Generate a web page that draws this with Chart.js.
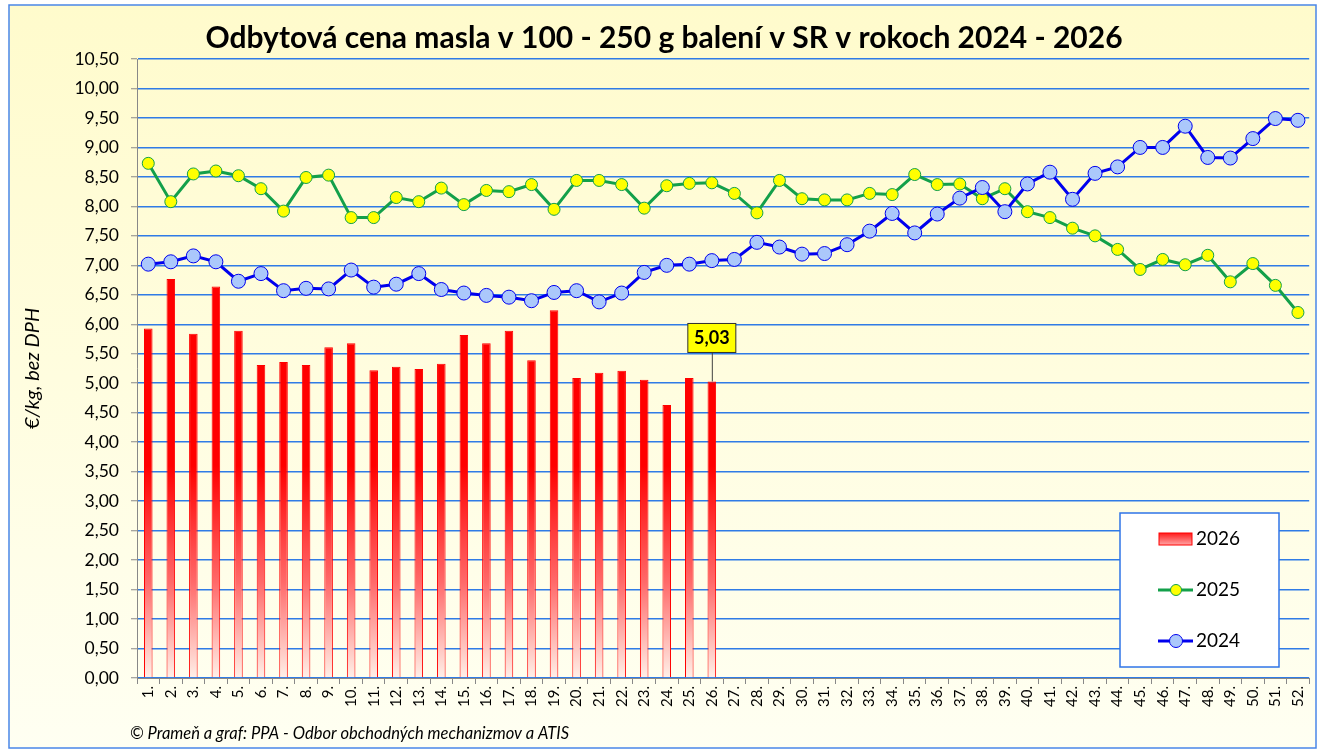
<!DOCTYPE html>
<html>
<head>
<meta charset="utf-8">
<script src="https://cdn.jsdelivr.net/npm/chart.js@4.4.1/dist/chart.umd.min.js"></script>
<style>
  html, body { margin: 0; padding: 0; background: #ffffff; }
  #wrap { width: 1318px; height: 751px; position: relative; }
</style>
</head>
<body>
<div id="wrap"><canvas id="chart" width="1318" height="751"></canvas></div>
<script>
// týždne 1. - 52.
const weeks = [];
for (let i = 1; i <= 52; i++) weeks.push(i + '.');

const prices2026 = [5.93, 6.77, 5.84, 6.64, 5.89, 5.31, 5.36, 5.31, 5.61, 5.68,
  5.22, 5.28, 5.24, 5.33, 5.82, 5.68, 5.89, 5.39, 6.24, 5.09,
  5.18, 5.21, 5.06, 4.63, 5.09, 5.03];

const prices2025 = [8.73, 8.08, 8.55, 8.60, 8.52, 8.30, 7.92, 8.49, 8.53, 7.81,
  7.81, 8.15, 8.08, 8.31, 8.03, 8.27, 8.25, 8.37, 7.95, 8.44,
  8.44, 8.37, 7.97, 8.35, 8.39, 8.40, 8.22, 7.89, 8.44, 8.13,
  8.11, 8.11, 8.22, 8.20, 8.54, 8.37, 8.38, 8.13, 8.30, 7.91,
  7.81, 7.63, 7.50, 7.27, 6.93, 7.10, 7.01, 7.17, 6.72, 7.03,
  6.66, 6.20];

const prices2024 = [7.02, 7.06, 7.16, 7.06, 6.73, 6.86, 6.57, 6.61, 6.60, 6.92,
  6.63, 6.68, 6.86, 6.59, 6.53, 6.49, 6.46, 6.40, 6.54, 6.57,
  6.38, 6.53, 6.88, 7.00, 7.02, 7.08, 7.10, 7.39, 7.31, 7.19,
  7.20, 7.35, 7.58, 7.88, 7.55, 7.87, 8.14, 8.32, 7.91, 8.38,
  8.58, 8.12, 8.56, 8.67, 9.00, 9.00, 9.36, 8.83, 8.82, 9.15,
  9.49, 9.46];

const seriesNames = ['2026', '2025', '2024'];
const lastLabelIndex = 25;

const FONT = 'Lato, "Open Sans", sans-serif';

function fmt(v) {
  return v.toFixed(2).replace('.', ',');
}

function barGradient(chart) {
  const area = chart.chartArea;
  const y = chart.scales.y;
  if (!area || !y) return '#ff0000';
  const g = chart.ctx.createLinearGradient(0, y.getPixelForValue(3.6), 0, y.getPixelForValue(0));
  g.addColorStop(0, '#ff0000');
  g.addColorStop(0.55, '#ff6a6a');
  g.addColorStop(1, '#fff0e8');
  return g;
}

const backdrop = {
  id: 'backdrop',
  beforeDraw(chart) {
    const ctx = chart.ctx;
    ctx.save();
    const g = ctx.createLinearGradient(0, 5, 0, 748);
    g.addColorStop(0, '#fffbcc');
    g.addColorStop(1, '#fffff2');
    ctx.fillStyle = g;
    ctx.fillRect(9, 5, 1307, 743);
    ctx.strokeStyle = '#4a86e8';
    ctx.lineWidth = 1.5;
    ctx.strokeRect(9, 5, 1307, 743);
    ctx.restore();
  }
};

const extras = {
  id: 'extras',
  afterDraw(chart) {
    const ctx = chart.ctx;
    const x = chart.scales.x;
    const y = chart.scales.y;
    ctx.save();

    // popis poslednej hodnoty
    const v = prices2026[lastLabelIndex];
    const px = x.getPixelForValue(lastLabelIndex);
    const py = y.getPixelForValue(v);
    ctx.strokeStyle = '#404040';
    ctx.lineWidth = 1;
    ctx.beginPath();
    ctx.moveTo(px + 0.5, py);
    ctx.lineTo(px + 0.5, py - 29);
    ctx.stroke();
    ctx.fillStyle = '#ffff00';
    ctx.fillRect(px - 24, py - 58, 48, 29);
    ctx.strokeStyle = '#303030';
    ctx.strokeRect(px - 24, py - 58, 48, 29);
    ctx.fillStyle = '#000000';
    ctx.font = 'bold 18px ' + FONT;
    ctx.textAlign = 'center';
    ctx.textBaseline = 'middle';
    ctx.fillText(fmt(v), px, py - 43);

    // legenda
    ctx.fillStyle = '#ffffff';
    ctx.fillRect(1120, 513, 159, 154);
    ctx.strokeStyle = '#2f74e8';
    ctx.lineWidth = 1.5;
    ctx.strokeRect(1120, 513, 159, 154);

    const lg = ctx.createLinearGradient(0, 532, 0, 546);
    lg.addColorStop(0, '#ff1010');
    lg.addColorStop(1, '#ffb0b0');
    ctx.fillStyle = lg;
    ctx.fillRect(1159, 533, 33, 12);
    ctx.strokeStyle = '#ff0000';
    ctx.lineWidth = 1;
    ctx.strokeRect(1159, 533, 33, 12);

    ctx.lineWidth = 3;
    ctx.strokeStyle = '#13a04a';
    ctx.beginPath(); ctx.moveTo(1158, 590); ctx.lineTo(1193, 590); ctx.stroke();
    ctx.beginPath(); ctx.arc(1176, 590, 5.5, 0, Math.PI * 2);
    ctx.fillStyle = '#ffff00'; ctx.fill();
    ctx.lineWidth = 1; ctx.stroke();

    ctx.lineWidth = 3;
    ctx.strokeStyle = '#0000ee';
    ctx.beginPath(); ctx.moveTo(1158, 641); ctx.lineTo(1193, 641); ctx.stroke();
    ctx.beginPath(); ctx.arc(1176, 641, 6.5, 0, Math.PI * 2);
    ctx.fillStyle = '#abc8fb'; ctx.fill();
    ctx.lineWidth = 1; ctx.stroke();

    ctx.fillStyle = '#000000';
    ctx.font = '19px ' + FONT;
    ctx.textAlign = 'left';
    ctx.textBaseline = 'middle';
    ctx.fillText(seriesNames[0], 1196, 539);
    ctx.fillText(seriesNames[1], 1196, 590);
    ctx.fillText(seriesNames[2], 1196, 641);

    // zdroj
    ctx.font = 'italic 16.5px ' + FONT;
    ctx.fillText('© Prameň a graf: PPA - Odbor obchodných mechanizmov a ATIS', 130, 734);
    ctx.restore();
  }
};

new Chart(document.getElementById('chart'), {
  type: 'bar',
  data: {
    labels: weeks,
    datasets: [
      {
        label: seriesNames[0],
        data: prices2026,
        backgroundColor: (c) => barGradient(c.chart),
        borderColor: '#ff0000',
        borderWidth: 1,
        categoryPercentage: 1,
        barPercentage: 0.38,
        order: 3
      },
      {
        type: 'line',
        label: seriesNames[1],
        data: prices2025,
        borderColor: '#13a04a',
        borderWidth: 3,
        pointBackgroundColor: '#ffff00',
        pointBorderColor: '#13a04a',
        pointBorderWidth: 1,
        pointRadius: 6,
        tension: 0,
        order: 2
      },
      {
        type: 'line',
        label: seriesNames[2],
        data: prices2024,
        borderColor: '#0000ee',
        borderWidth: 3,
        pointBackgroundColor: '#abc8fb',
        pointBorderColor: '#0000ee',
        pointBorderWidth: 1,
        pointRadius: 7,
        tension: 0,
        order: 1
      }
    ]
  },
  options: {
    responsive: false,
    animation: false,
    layout: { padding: { left: 18, right: 8, top: 0, bottom: 0 } },
    plugins: {
      legend: { display: false },
      tooltip: { enabled: false },
      title: {
        display: true,
        text: 'Odbytová cena masla v 100 - 250 g balení v SR v rokoch 2024 - 2026',
        color: '#000000',
        font: { family: FONT, size: 30, weight: 'bold' },
        padding: { top: 20, bottom: 3 }
      }
    },
    scales: {
      y: {
        min: 0,
        max: 10.5,
        afterFit(s) { s.width = 119; },
        ticks: {
          stepSize: 0.5,
          color: '#000000',
          font: { family: FONT, size: 17.5 },
          padding: 12,
          callback: (v) => fmt(v)
        },
        grid: {
          color: '#2f7be6',
          lineWidth: 1.5,
          tickColor: '#888888',
          tickLength: 6,
          tickWidth: 1
        },
        border: { display: true, color: '#888888', width: 1 },
        title: {
          display: true,
          text: '€/kg, bez DPH',
          color: '#000000',
          font: { family: FONT, size: 20, style: 'italic' },
          padding: { top: 3, bottom: 0 }
        }
      },
      x: {
        afterFit(s) { s.height = 73; },
        ticks: {
          color: '#000000',
          font: { family: FONT, size: 15 },
          minRotation: 90,
          maxRotation: 90,
          autoSkip: false,
          padding: 2
        },
        grid: {
          offset: true,
          drawOnChartArea: false,
          color: '#888888',
          tickLength: 6
        },
        border: { display: true, color: '#888888', width: 1 }
      }
    }
  },
  plugins: [backdrop, extras]
});
</script>
</body>
</html>
